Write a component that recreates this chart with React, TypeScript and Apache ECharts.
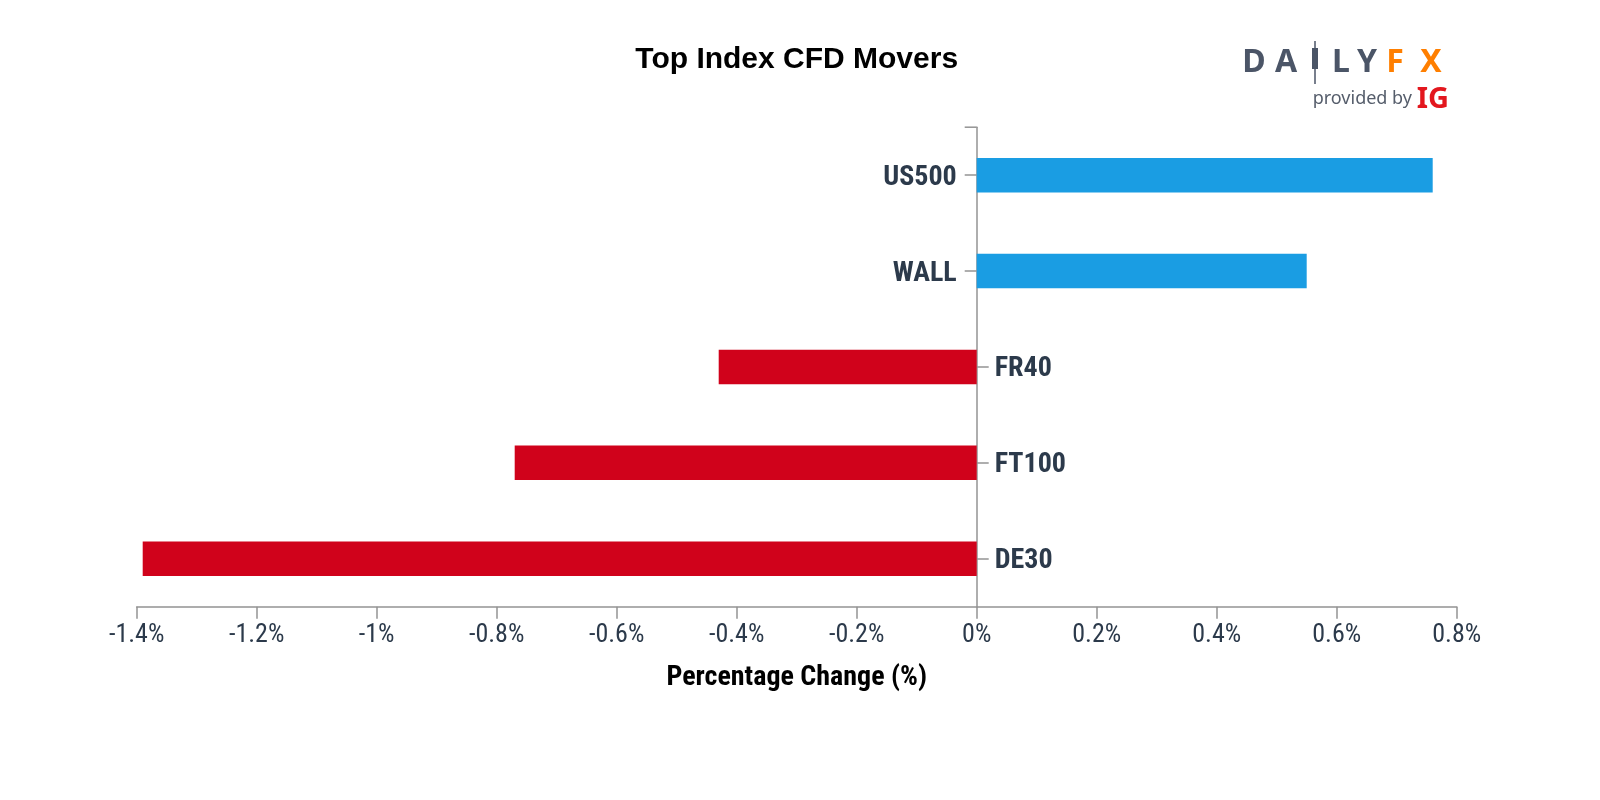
import React, { useEffect, useRef } from "react";
import * as echarts from "echarts";

const categories = ["US500", "WALL", "FR40", "FT100", "DE30"];
const values = [0.76, 0.55, -0.43, -0.77, -1.39];
const xTicks = { min: -1.4, max: 0.8, interval: 0.2 };

const POS_COLOR = "#1a9de3";
const NEG_COLOR = "#d0021b";
const TEXT_COLOR = "#2c3a4b";
const AXIS_COLOR = "#939393";
const COND_FONT = "'Roboto Condensed', 'Liberation Sans Narrow', 'DejaVu Sans Condensed', Roboto, sans-serif";

const GRID = { left: 136.7, right: 143.3, top: 127.2, bottom: 193.3 };

export default function App() {
  const ref = useRef<HTMLDivElement>(null);
  useEffect(() => {
    if (!ref.current) return;
    const chart = echarts.init(ref.current, undefined, { renderer: "svg" });
    const logoFont = "'Noto Sans', sans-serif";
    const letters = [
      { t: "D", x: 1254, c: "#4b5567" },
      { t: "A", x: 1286, c: "#4b5567" },
      { t: "L", x: 1341, c: "#4b5567" },
      { t: "Y", x: 1367, c: "#4b5567" },
      { t: "F", x: 1395, c: "#ff7f00" },
      { t: "X", x: 1431, c: "#ff7f00" },
    ];
    const logo: any[] = letters.map((l) => ({
      type: "text",
      x: l.x,
      y: 59,
      style: {
        text: l.t,
        fill: l.c,
        font: `700 32px ${logoFont}`,
        textAlign: "center",
        textVerticalAlign: "middle",
      },
    }));
    logo.push(
      { type: "line", shape: { x1: 1315, y1: 41, x2: 1315, y2: 84 }, style: { stroke: "#4b5567", lineWidth: 1.5 } },
      { type: "rect", shape: { x: 1312, y: 48, width: 6, height: 21 }, style: { fill: "#4b5567" } },
      {
        type: "text",
        x: 1412,
        y: 97,
        style: { text: "provided by", fill: "#555d6b", font: `400 18px ${logoFont}`, textAlign: "right", textVerticalAlign: "middle" },
      },
      {
        type: "text",
        x: 1449,
        y: 96,
        style: { text: "IG", fill: "#e3171e", font: `700 29px ${logoFont}`, textAlign: "right", textVerticalAlign: "middle" },
      },
      {
        type: "text",
        x: 796.7,
        y: 57,
        style: {
          text: "Top Index CFD Movers",
          fill: "#000",
          font: "700 30px 'Liberation Sans', Arial, sans-serif",
          textAlign: "center",
          textVerticalAlign: "middle",
        },
      }
    );

    const posIdx = (i: number) => values[i] >= 0;
    const fmt = (v: number) => `${parseFloat(v.toFixed(1))}%`;

    chart.setOption({
      animation: false,
      grid: { ...GRID, containLabel: false },
      xAxis: {
        type: "value",
        min: xTicks.min,
        max: xTicks.max,
        interval: xTicks.interval,
        axisLine: { show: true, onZero: false, lineStyle: { color: AXIS_COLOR, width: 1.5 } },
        axisTick: { show: true, length: 12, lineStyle: { color: AXIS_COLOR, width: 1.5 } },
        splitLine: { show: false },
        axisLabel: { color: TEXT_COLOR, fontFamily: COND_FONT, fontSize: 26, margin: 13, formatter: fmt },
        name: "Percentage Change (%)",
        nameLocation: "middle",
        nameGap: 55,
        nameTextStyle: { color: "#000", fontFamily: COND_FONT, fontWeight: "bold", fontSize: 28 },
      },
      yAxis: [
        {
          type: "category",
          data: categories,
          inverse: true,
          position: "left",
          axisLine: { show: true, onZero: true, onZeroAxisIndex: 0, lineStyle: { color: AXIS_COLOR, width: 1.5 } },
          axisTick: { show: true, length: 12, alignWithLabel: true, interval: (i: number) => posIdx(i), lineStyle: { color: AXIS_COLOR, width: 1.5 } },
          axisLabel: { show: false },
          splitLine: { show: false },
        },
        {
          type: "category",
          data: categories,
          inverse: true,
          position: "right",
          axisLine: { show: false, onZero: true, onZeroAxisIndex: 0 },
          axisTick: { show: true, length: 12, alignWithLabel: true, interval: (i: number) => !posIdx(i), lineStyle: { color: AXIS_COLOR, width: 1.5 } },
          axisLabel: { show: false },
          splitLine: { show: false },
        },
      ],
      series: [
        {
          type: "bar",
          yAxisIndex: 0,
          barWidth: "36%",
          data: values.map((v, i) => ({
            value: v,
            itemStyle: { color: v >= 0 ? POS_COLOR : NEG_COLOR },
            label: {
              show: true,
              position: v >= 0 ? "left" : "right",
              distance: v >= 0 ? 20 : 18,
              formatter: categories[i],
              color: TEXT_COLOR,
              fontFamily: COND_FONT,
              fontWeight: "bold",
              fontSize: 28,
            },
          })),
        },
      ],
      graphic: logo,
    });

    const zeroX = chart.convertToPixel({ xAxisIndex: 0 }, 0) as number;
    chart.setOption({
      graphic: [
        ...logo,
        {
          type: "line",
          shape: { x1: zeroX - 12, y1: GRID.top, x2: zeroX, y2: GRID.top },
          style: { stroke: AXIS_COLOR, lineWidth: 1.5 },
        },
      ],
    });

    return () => chart.dispose();
  }, []);
  return <div ref={ref} style={{ position: "fixed", left: 0, top: 0, width: 1600, height: 800 }} />;
}
